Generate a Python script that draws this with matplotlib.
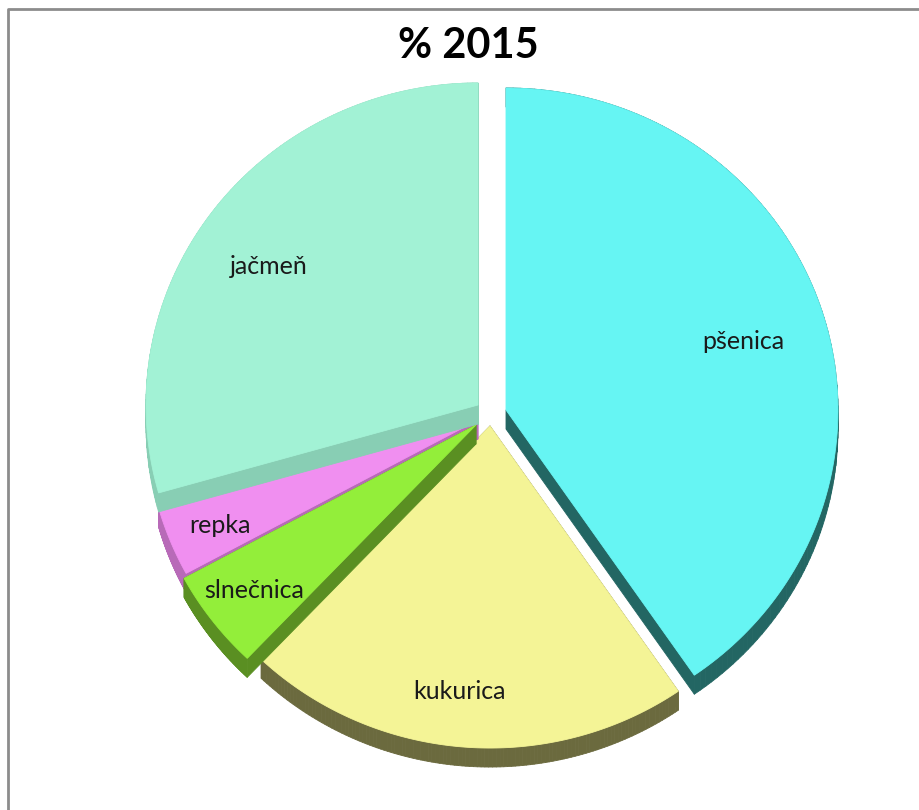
import numpy as np
import matplotlib.pyplot as plt
from matplotlib.patches import Polygon
from matplotlib.collections import PolyCollection

# data (share of area, %)
crops = ["pšenica", "kukurica", "slnečnica", "repka", "jačmeň"]
share = [40.4, 21.7, 5.0, 3.5, 29.4]
top_colors = ["#66F5F3", "#F4F496", "#93EE3A", "#F08FF0", "#A2F2D5"]
side_colors = ["#236663", "#6B6A3E", "#5A8F22", "#B86AB8", "#88CEB4"]

# layout in pixels
W, H = 920, 810
cx, cy = 478, 420
R = 332
ky = 0.97
depth = 19
explode = [(28, -10), (0, 0), (0, 0), (0, 0), (0, 0)]   # pulled-out slice
nudge = [(0, 0), (12, 6), (-2, 5), (0, 0), (0, -15)]     # fake perspective shift
label_r = [0.74, 0.84, 0.86, 0.85, 0.80]
draw_order = [0, 1, 3, 2, 4]

fig = plt.figure(figsize=(W / 100, H / 100), dpi=100)
ax = fig.add_axes([0, 0, 1, 1])
ax.set_xlim(0, W)
ax.set_ylim(H, 0)
ax.axis('off')

# chart frame
ax.plot([8.5, 8.5, W], [H, 8.5, 8.5], color='#8c8c8c', lw=2, solid_capstyle='butt')

frac = np.array(share) / sum(share)
ends = np.cumsum(frac) * 360
starts = ends - frac * 360

def pt(ang, r, x0, y0):
    a = np.radians(ang)
    return x0 + r * np.sin(a), y0 - r * ky * np.cos(a)

for i in draw_order:
    a0, a1 = starts[i], ends[i]
    ox = cx + explode[i][0] + nudge[i][0]
    oy = cy + explode[i][1] + nudge[i][1]
    angs = np.linspace(a0, a1, 120)
    xs, ys = pt(angs, R, ox, oy)
    poly = np.vstack([[ox, oy], np.column_stack([xs, ys])])
    # side walls: extrude each edge downwards
    quads = []
    n = len(poly)
    for k in range(n):
        p = poly[k]
        q = poly[(k + 1) % n]
        quads.append([p, q, q + [0, depth], p + [0, depth]])
    ax.add_collection(PolyCollection(quads, facecolors=side_colors[i],
                                     edgecolors=side_colors[i], lw=0.6))
    ax.add_patch(Polygon(poly, closed=True, facecolor=top_colors[i],
                         edgecolor=top_colors[i], lw=0.6))

for i in range(len(crops)):
    mid = (starts[i] + ends[i]) / 2
    lx, ly = pt(mid, R * label_r[i], cx + explode[i][0], cy + explode[i][1])
    ax.text(lx + 3, ly + 2, crops[i], ha='center', va='center', fontsize=18,
            family='Lato', color='#1a1a1a')

ax.text(468, 46, "% 2015", ha='center', va='center', fontsize=30,
        fontweight='bold', family='Lato', color='black')

fig.savefig("out.png", dpi=100)
